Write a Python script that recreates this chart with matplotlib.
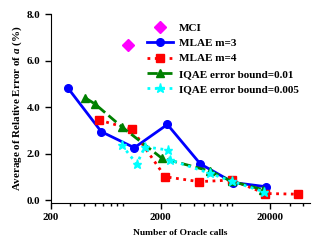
import matplotlib

matplotlib.use("Agg")
import matplotlib.pyplot as plt
from matplotlib.ticker import FixedLocator, NullFormatter, FuncFormatter

plt.rcParams["font.family"] = ["Liberation Serif", "DejaVu Serif"]
plt.rcParams["font.weight"] = "bold"
plt.rcParams["mathtext.fontset"] = "custom"
plt.rcParams["mathtext.it"] = "Liberation Serif:bold:italic"
plt.rcParams["mathtext.rm"] = "Liberation Serif:bold"

# --- data ---
mci_x = [1000]
mci_y = [6.67]

mlae3_x = [288, 576, 1152, 2304, 4608, 9216, 18432]
mlae3_y = [4.8, 2.94, 2.25, 3.25, 1.55, 0.75, 0.57]

mlae4_x = [550, 1100, 2200, 4500, 8900, 18000, 36000]
mlae4_y = [3.44, 3.04, 1.0, 0.79, 0.86, 0.28, 0.25]

iqae01_x = [410, 505, 885, 2050, 5600, 8900, 17000]
iqae01_y = [4.4, 4.13, 3.15, 1.8, 1.25, 0.8, 0.45]

iqae005_x = [885, 1210, 1440, 2350, 2450, 5600, 9000, 17500]
iqae005_y = [2.37, 1.55, 2.29, 2.15, 1.72, 1.15, 0.8, 0.35]

fig = plt.figure(figsize=(3.2, 2.47), dpi=100)
ax = fig.add_axes([0.159, 0.178, 0.81, 0.765])

ax.plot(mci_x, mci_y, ls="none", marker="D", ms=6, color="#FF00FF", label="MCI")
ax.plot(mlae3_x, mlae3_y, "-o", color="#0000FF", lw=2.0, ms=5.5, label="MLAE m=3")
ax.plot(mlae4_x, mlae4_y, ":s", color="#FF0000", lw=2.0, ms=5.5, label="MLAE m=4")
ax.plot(iqae01_x, iqae01_y, "--^", color="#008000", lw=2.0, ms=5.5,
        label="IQAE error bound=0.01")
ax.plot(iqae005_x, iqae005_y, ":*", color="#00FFFF", lw=2.0, ms=6.5,
        label="IQAE error bound=0.005")

ax.set_xscale("log")
ax.set_xlim(200, 46000)
ax.set_ylim(-0.13, 8.0)
ax.xaxis.set_major_locator(FixedLocator([200, 2000, 20000]))
ax.xaxis.set_major_formatter(FuncFormatter(lambda v, p: f"{v:.0f}"))
minors = [m * 10 ** k for k in (2, 3) for m in range(3, 10)] + [30000, 40000]
ax.xaxis.set_minor_locator(FixedLocator(minors))
ax.xaxis.set_minor_formatter(NullFormatter())
ax.set_yticks([0, 2, 4, 6, 8])
ax.yaxis.set_major_formatter(FuncFormatter(lambda v, p: f"{v:.1f}"))

for s in ("top", "right"):
    ax.spines[s].set_visible(False)
ax.tick_params(which="major", length=4, width=1, labelsize=7.8, pad=3.5)
ax.tick_params(which="minor", length=2.5, width=1)

ax.set_xlabel("Number of Oracle calls", fontsize=6.8, fontweight="bold", labelpad=5)
ax.set_ylabel("Average of Relative Error of $a$ (%)", fontsize=7.9,
              fontweight="bold", labelpad=2)

fig.legend(loc="upper left", frameon=False, fontsize=8, handlelength=2.3,
           borderaxespad=0, borderpad=0, labelspacing=0.5, handletextpad=0.6,
           bbox_to_anchor=(147 / 320, 1 - 23 / 247))

fig.savefig("out.png", dpi=100)
